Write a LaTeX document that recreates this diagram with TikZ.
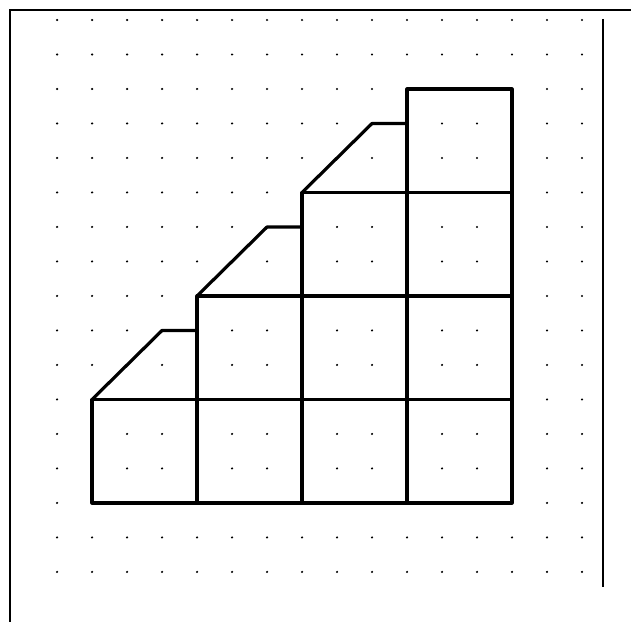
\documentclass[tikz,border=0pt]{standalone}
\begin{document}
\begin{tikzpicture}[xscale=1, yscale=0.9857]
	\useasboundingbox (-2.63,-3.45) rectangle (15.4,14.58); % Rand wie Vorlage
	
	% Punktraster
	\foreach \x in {-1,...,14}
		\foreach \y in {-2,...,14}
			\fill (\x,\y) circle[radius=0.035];
	
	% Rahmen
	\draw[line width=1.6pt] (-2.34,-3.45) -- (-2.34,14.29) -- (15.4,14.29);
	\draw[line width=1.6pt] (14.6,14.03) -- (14.6,-2.43);
	
	% Quadrate
	\foreach \x/\y in {0/0, 3/0, 6/0, 9/0, 3/3, 6/3, 9/3, 6/6, 9/6, 9/9}
		\draw[line width=2.6pt, line join=round] (\x,\y) rectangle ++(3,3);
	
	% Schraege Daecher
	\foreach \x/\y in {0/3, 3/6, 6/9}
		\draw[line width=2.6pt, line join=round] (\x,\y) -- ++(2,2) -- ++(1,0);
	
	%\draw[help lines] (-1,-2) grid (14,14);
\end{tikzpicture}
\end{document}
